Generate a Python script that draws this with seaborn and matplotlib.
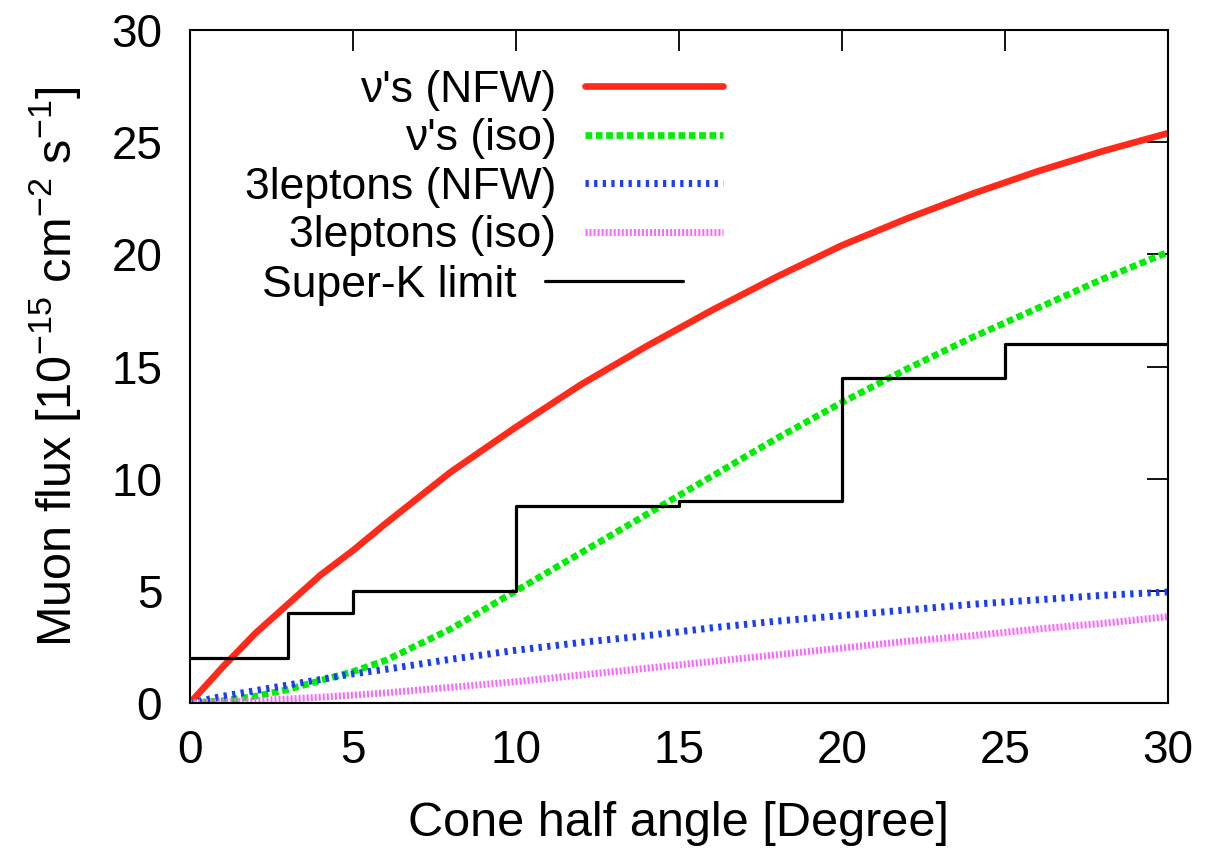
import numpy as np
import pandas as pd
import matplotlib
matplotlib.use("Agg")
import matplotlib.pyplot as plt
import seaborn as sns

# ---- data ----
angle = [0, 1, 2, 3, 4, 5, 6, 8, 10, 12, 14, 16, 18, 20, 22, 24, 26, 28, 30]
nu_nfw = [0.0, 1.6, 3.1, 4.4, 5.7, 6.8, 8.0, 10.3, 12.3, 14.2, 15.9, 17.5, 19.0, 20.4, 21.6, 22.7, 23.7, 24.6, 25.4]
nu_iso = [0.0, 0.1, 0.3, 0.6, 1.0, 1.4, 1.9, 3.3, 5.0, 6.7, 8.4, 10.1, 11.8, 13.4, 14.9, 16.3, 17.6, 18.9, 20.1]
lep_nfw = [0.0, 0.3, 0.55, 0.8, 1.05, 1.3, 1.5, 1.95, 2.35, 2.7, 3.0, 3.35, 3.65, 3.9, 4.15, 4.4, 4.6, 4.8, 4.95]
lep_iso = [0.0, 0.05, 0.1, 0.18, 0.26, 0.35, 0.45, 0.7, 0.95, 1.25, 1.55, 1.85, 2.15, 2.45, 2.75, 3.0, 3.3, 3.55, 3.85]

sk_angle = [0, 3, 5, 10, 15, 20, 25, 30]
sk_limit = [2.0, 4.0, 5.0, 8.8, 9.0, 14.5, 16.0, 16.0]

xticks = [0, 5, 10, 15, 20, 25, 30]
yticks = [0, 5, 10, 15, 20, 25, 30]

sns.set_style("white")
plt.rcParams['font.family'] = ['Liberation Sans', 'DejaVu Sans']
plt.rcParams['mathtext.fontset'] = 'custom'
plt.rcParams['mathtext.rm'] = 'Liberation Sans'
plt.rcParams['mathtext.it'] = 'Liberation Sans'
for k in ['text.color', 'axes.labelcolor', 'xtick.color', 'ytick.color']:
    plt.rcParams[k] = 'black'

df = pd.DataFrame({"angle": angle, "nu_nfw": nu_nfw, "nu_iso": nu_iso,
                   "lep_nfw": lep_nfw, "lep_iso": lep_iso})
dsk = pd.DataFrame({"angle": sk_angle, "sk": sk_limit})

fig = plt.figure(figsize=(12.09, 8.5), dpi=100)
ax = fig.add_axes([190/1209, 1 - 703/850, (1168-190)/1209, (703-30)/850])

sns.lineplot(data=df, x="angle", y="nu_nfw", ax=ax, color="#ff2a1a", lw=4.8, label="ν's (NFW)")
sns.lineplot(data=df, x="angle", y="nu_iso", ax=ax, color="#00ee00", lw=4.8, label="ν's (iso)")
sns.lineplot(data=df, x="angle", y="lep_nfw", ax=ax, color="#1a3cff", lw=5.0, label="3leptons (NFW)")
sns.lineplot(data=df, x="angle", y="lep_iso", ax=ax, color="#ff66ff", lw=5.0, label="3leptons (iso)")
sns.lineplot(data=dsk, x="angle", y="sk", ax=ax, color="black", lw=2.3, drawstyle="steps-post",
             label="Super-K limit")

lines = ax.get_lines()
lines[1].set_dashes([1.0, 0.55])
lines[2].set_dashes([0.47, 0.77])
lines[3].set_dashes([0.29, 0.29])

ax.set_xlim(0, 30)
ax.set_ylim(0, 30)
ax.set_xticks(xticks)
ax.set_yticks(yticks)
ax.tick_params(direction="in", length=15, width=1.3, top=True, right=True,
               labelsize=33, colors="black")
ax.tick_params(axis="x", pad=19)
ax.tick_params(axis="y", pad=20)
for s in ax.spines.values():
    s.set_linewidth(1.5)
    s.set_color("black")

ax.set_xlabel("Cone half angle [Degree]", fontsize=35, labelpad=20)
ax.set_ylabel(r"Muon flux [10$^{\mathregular{-15}}$ cm$^{\mathregular{-2}}$ s$^{\mathregular{-1}}$]",
              fontsize=35, labelpad=20)

ax.get_legend().remove()
h, lab = ax.get_legend_handles_labels()
common = dict(frameon=False, markerfirst=False, fontsize=32, handlelength=3.1,
              handletextpad=0.65, borderaxespad=0, borderpad=0, loc="upper right")
leg1 = ax.legend(h[:4], lab[:4], bbox_to_anchor=(0.545, 0.941), labelspacing=0.17, **common)
ax.add_artist(leg1)
leg2 = ax.legend(h[4:], lab[4:], bbox_to_anchor=(0.504, 0.651), **common)

fig.savefig("out.png", dpi=100)
